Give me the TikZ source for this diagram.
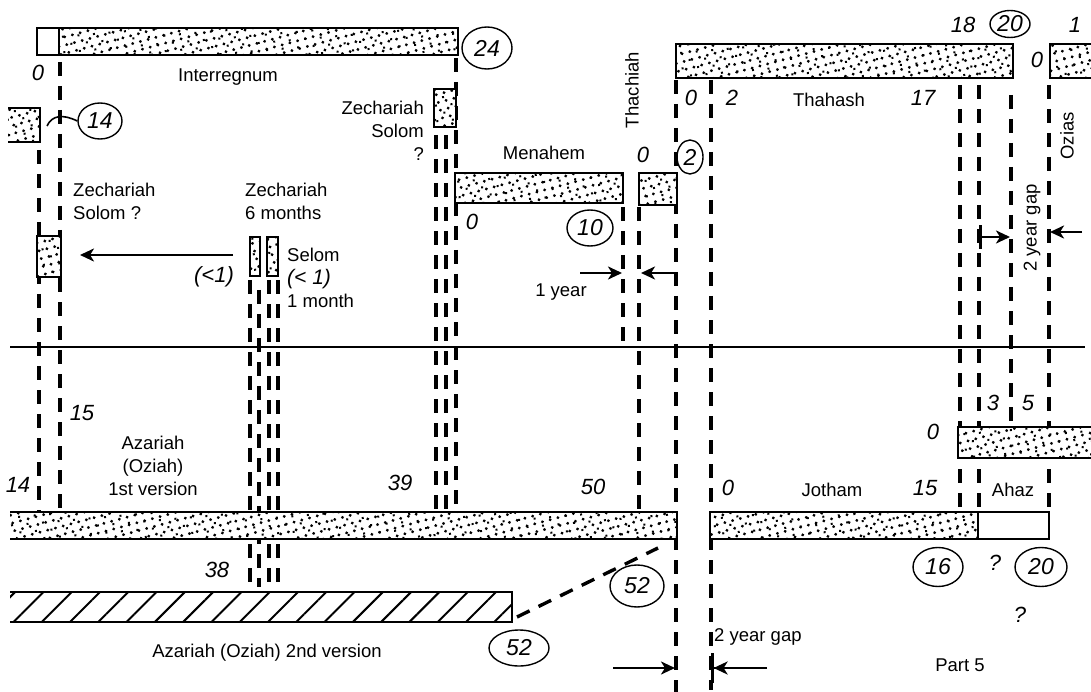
\documentclass[tikz,border=0pt]{standalone}
\usepackage{fontspec}
\newfontfamily\labfont{Liberation Sans}
\newcommand\handnum{\labfont\itshape}
\usetikzlibrary{arrows.meta,patterns.meta,shapes.geometric}
\tikzset{
  dotfill/.style={preaction={fill=white}, pattern={Dots[distance=8pt, radius=1.6pt, angle=15]},
    postaction={pattern={Dots[distance=11pt, radius=1.4pt, angle=-40, xshift=3pt, yshift=2pt]}}},
  bar/.style={dotfill, draw, line width=2.8pt},
  edge/.style={line width=2.8pt},
  hatchbar/.style={preaction={fill=white}, pattern={Lines[angle=45, distance=20pt, line width=2pt]}},
  guide/.style={line width=3.4pt, dash pattern=on 14pt off 10pt},
  flow/.style={line width=2.6pt},
  lbl/.style={font=\labfont\fontsize{18.5}{23}\selectfont, align=center, inner sep=1pt},
  num/.style={font=\handnum\fontsize{22}{23}\selectfont, inner sep=1pt},
  ring/.style={num, font=\handnum\fontsize{23}{23}\selectfont, draw, ellipse, line width=1.4pt, inner sep=0pt, minimum width=46pt, minimum height=36pt}
}

\begin{document}
\begin{tikzpicture}[x=1pt, y=-1pt, >={Stealth[length=14pt, width=13pt, inset=4pt]}]
\useasboundingbox (0,0) rectangle (1091,692);
\foreach \gx/\ya/\yb in {39/150/512, 60/62/512, 250/280/587, 259/290/587, 269/280/587, 278/280/587,
    436/135/512, 446/135/512, 456/58/512, 623/207/347, 639/207/512, 676/80/692, 711/80/690,
    960/85/512, 979/85/512, 1011/95/427, 1049/85/512}
  \draw[guide] (\gx,\ya) -- (\gx,\yb);
\draw[line width=2.4pt] (10,347) -- (1085,347);

\draw[bar] (37,28) rectangle (458,55);
\draw[edge, fill=white] (37,28) rectangle (59,55);
\path[dotfill] (8,108) rectangle (40,142);
\draw[edge] (8,108) -- (40,108) -- (40,142) -- (8,142);
\draw[bar] (37,236) rectangle (61,277);
\draw[bar] (250,237) rectangle (260,276);
\draw[bar] (267,237) rectangle (278,276);
\draw[bar] (434,89) rectangle (456,127);
\draw[bar] (455,173) rectangle (623,203);
\draw[bar] (639,173) rectangle (677,205);
\draw[bar] (676,44) rectangle (1013,78);
\path[dotfill] (1050,44) rectangle (1091,78);
\draw[edge] (1095,44) -- (1050,44) -- (1050,78) -- (1095,78);
\path[dotfill] (958,427) rectangle (1091,458);
\draw[edge] (1095,427) -- (958,427) -- (958,458) -- (1095,458);
\path[dotfill] (10,512) rectangle (677,539);
\draw[edge] (10,512) -- (677,512) -- (677,539) -- (10,539);
\draw[bar] (710,512) rectangle (978,539);
\draw[edge, fill=white] (978,512) rectangle (1049,539);
\path[hatchbar] (10,592) rectangle (512,622);
\draw[edge] (10,592) -- (512,592) -- (512,622) -- (10,622);

\node[ring, minimum width=50pt, minimum height=42pt] (c24) at (487,48) {24};
\node[ring, minimum width=44pt] (c14) at (100,121) {14};
\node[ring] (c10) at (590,228) {10};
\node[ring, minimum width=26pt, minimum height=34pt] (c2) at (690,157) {2};
\node[ring, minimum width=40pt, minimum height=27pt] (c20top) at (1010,24) {20};
\node[ring, minimum width=50pt, minimum height=39pt] (c16) at (938,567) {16};
\node[ring, minimum width=52pt, minimum height=39pt] (c20bot) at (1041,567) {20};
\node[ring, minimum width=54pt, minimum height=42pt] (c52up) at (637,586) {52};
\node[ring, minimum width=60pt, minimum height=36pt] (c52low) at (519,648) {52};

\node[num] (n0a) at (38,73) {0};
\node[num] (n14) at (18,485) {14};
\node[num] (n15) at (82,413) {15};
\node[num] (n39) at (400,483) {39};
\node[num] (n50) at (593,487) {50};
\node[num] (n38) at (217,570) {38};
\node[num] (n0b) at (472,222) {0};
\node[num] (n0c) at (643,155) {0};
\node[num] (n0d) at (691,98) {0};
\node[num] (n2) at (732,98) {2};
\node[num] (n17) at (923,98) {17};
\node[num] (n18) at (963,25) {18};
\node[num] (n1) at (1075,25) {1};
\node[num] (n0e) at (1037,60) {0};
\node[num] (n0f) at (933,432) {0};
\node[num] (n3) at (993,403) {3};
\node[num] (n5) at (1028,403) {5};
\node[num] (n0g) at (728,488) {0};
\node[num] (n15b) at (925,488) {15};
\node[num] (q1) at (995,563) {?};
\node[num] (q2) at (1020,615) {?};
\node[num] (lt1) at (214,277) {(<1)};

\node[lbl] (interregnum) at (228,77) {Interregnum};
\node[lbl, anchor=west, align=left] (zechleft) at (72,201) {Zechariah\\Solom ?};
\node[lbl, anchor=west, align=left] (zechmid) at (244,201) {Zechariah\\6 months};
\node[lbl, anchor=west, align=left] (selom) at (286,278) {Selom\\{\handnum\fontsize{21}{23}\selectfont(< 1)}\\1 month};
\node[lbl, anchor=east, align=right] (zechright) at (425,131) {Zechariah\\Solom\\?};
\node[lbl] (menahem) at (544,153) {Menahem};
\node[lbl, rotate=90] (thachiah) at (632,90) {Thachiah};
\node[lbl] (thahash) at (829,100) {Thahash};
\node[lbl, rotate=90] (ozias) at (1067,136) {Ozias};
\node[lbl, rotate=90] (gaptop) at (1032,228) {2 year gap};
\node[lbl] (oneyear) at (561,292) {1 year};
\node[lbl] (azariahA) at (153,466) {Azariah\\(Oziah)\\1st version};
\node[lbl] (azariahB) at (267,653) {Azariah (Oziah) 2nd version};
\node[lbl] (jotham) at (832,490) {Jotham};
\node[lbl] (ahaz) at (1013,490) {Ahaz};
\node[lbl, anchor=west] (gapbot) at (713,637) {2 year gap};
\node[lbl] (part) at (960,665) {Part 5};

\coordinate (zsrc) at (233,255);
\coordinate (zdst) at (80,255);
\draw[flow, ->] (zsrc) -- (zdst);
\draw[flow, ->] (580,273) -- (622,273);
\draw[flow, ->] (677,273) -- (641,273);
\draw[flow, {Bar[width=24pt]}->] (979,237) -- (1010,237);
\draw[flow, ->] (1082,232) -- (1050,232);
\draw[flow, ->] (613,668) -- (675,668);
\draw[flow, -{Stealth[length=14pt, width=13pt, inset=4pt] Bar[width=30pt]}] (767,668) -- (711,668);
\draw[guide] (517,617) -- (658,548);
\draw[line width=1.6pt] (47,126) .. controls (52,115) and (63,114) .. (c14.west);
\end{tikzpicture}
\end{document}
